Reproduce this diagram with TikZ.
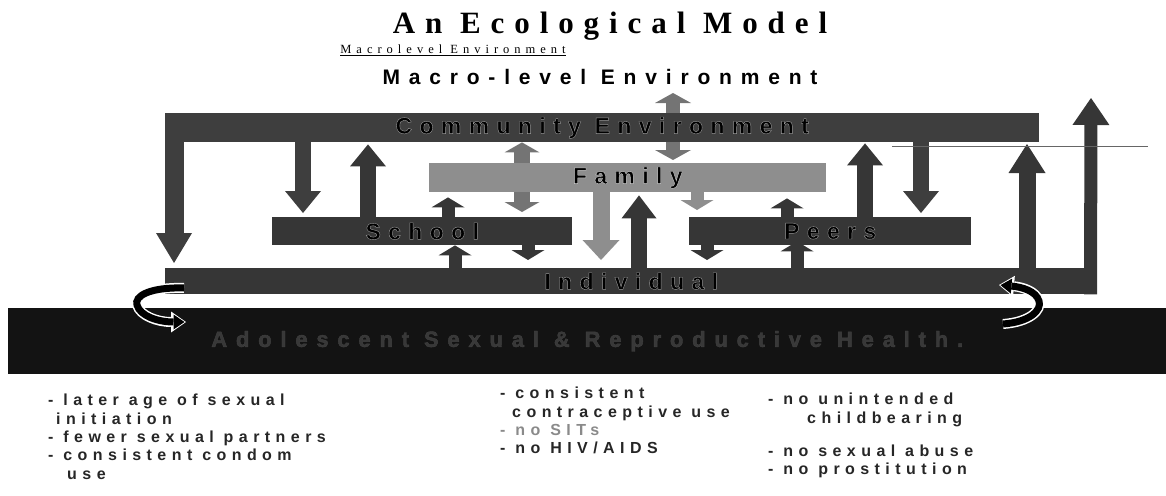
\documentclass[tikz,border=0pt]{standalone}
\usepackage{fontspec}
\setmainfont{Liberation Sans}
\newfontfamily\titlefont[LetterSpace=32]{Liberation Serif}
\newfontfamily\captionfont[LetterSpace=40]{Liberation Serif}
\newfontfamily\levelfont[LetterSpace=42]{Liberation Sans}
\newfontfamily\listfont[LetterSpace=34]{Liberation Sans}
\newfontfamily\barfont[LetterSpace=32]{Liberation Sans}
\usetikzlibrary{arrows.meta, backgrounds}

\definecolor{commgray}{HTML}{3E3E3E}
\definecolor{famgray}{HTML}{8E8E8E}
\definecolor{darkbar}{HTML}{363636}
\definecolor{healthblack}{HTML}{131313}
\definecolor{healthtext}{HTML}{383838}
\definecolor{listtext}{HTML}{262626}
\definecolor{sitgray}{HTML}{8A8A8A}
\definecolor{crossgray}{HTML}{747474}

% outlined letters as on the bars
\newcommand\embossed[2][0.6]{\special{pdf:literal direct 2 Tr 0.4 w #1 G}#2\special{pdf:literal direct 0 Tr 0 G}}

\begin{document}
\begin{tikzpicture}[x=1pt, y=-1pt,
    bar/.style={inner sep=0pt, anchor=north west, font=\barfont\bfseries\fontsize{23}{23}\selectfont},
    outcome/.style={inner sep=0pt, anchor=north west, align=left, text=listtext,
      font=\listfont\bfseries\fontsize{16}{18.3}\selectfont},
    blockarrow/.style n args={3}{line width=#1, -{Triangle[length=#2, width=#3, line width=0pt]}},
    twoway/.style n args={3}{line width=#1,
      {Triangle[length=#2, width=#3, line width=0pt]}-{Triangle[length=#2, width=#3, line width=0pt]}},
    bigarrow/.style={blockarrow={16pt}{22pt}{36pt}, draw=commgray},
    smallarrow/.style={blockarrow={13pt}{10pt}{33pt}, draw=darkbar},
    famarrow/.style={blockarrow={17pt}{20pt}{37pt}, draw=famgray},
    turnout/.style={white, line width=10pt, -{Triangle[length=15pt, width=21pt, line width=0pt]}},
    turnin/.style={black, line width=7pt, shorten >=1.5pt, -{Triangle[length=11pt, width=15pt, line width=0pt]}}]
  \useasboundingbox (0,0) rectangle (1166,495);

  % titles
  \node[anchor=base, font=\titlefont\bfseries\fontsize{31}{31}\selectfont] (title) at (610,34) {An Ecological Model};
  \node[anchor=base, font=\captionfont\fontsize{12.5}{12.5}\selectfont] (caption) at (453,54) {\underline{Macrolevel Environment}};
  \node[anchor=base, font=\levelfont\bfseries\fontsize{21}{21}\selectfont] (macro) at (600,84) {Macro-level Environment};

  % bars
  \node[bar, fill=commgray, minimum width=874pt, minimum height=29pt] (community) at (165,113) {\embossed{Community Environment}};
  \node[bar, fill=famgray, minimum width=397pt, minimum height=29pt] (family) at (429,163) {\embossed[0.8]{Family}};
  \node[bar, fill=darkbar, minimum width=300pt, minimum height=28pt] (school) at (272,217) {\embossed{School}};
  \node[bar, fill=darkbar, minimum width=282pt, minimum height=28pt] (peers) at (689,217) {\embossed{Peers}};
  \node[bar, fill=darkbar, minimum width=932pt, minimum height=26pt] (individual) at (165,268) {\embossed{Individual}};
  \node[bar, fill=healthblack, text=healthtext, minimum width=1158pt, minimum height=66pt,
    font=\barfont\bfseries\fontsize{22}{22}\selectfont\addfontfeature{LetterSpace=40}] (health) at (8,308)
    {\embossed[0.25]{Adolescent Sexual \& Reproductive Health.}};

  \coordinate (macroend) at (673,93);
  \coordinate (macrotip) at (1091,98);
  \coordinate (lineL) at (892,146);
  \coordinate (lineR) at (1148,146);

  % arrows passing behind a bar
  \begin{scope}[on background layer]
    \draw[twoway={14pt}{10pt}{36pt}, draw=crossgray, shorten >=3pt] (macroend) -- (673,0 |- family.north);
    \draw[twoway={16pt}{10pt}{35pt}, draw=crossgray, shorten >=5pt] (522,0 |- community.south) -- (522,0 |- school.north);
  \end{scope}

  % community
  \draw[blockarrow={19pt}{30pt}{36pt}, draw=commgray, shorten >=5pt] (174,0 |- community.north) -- (174,0 |- individual.north);
  \draw[bigarrow, shorten >=4pt] (303,0 |- community.south) -- (303,0 |- school.north);
  \draw[bigarrow, draw=darkbar, shorten >=2pt] (368,0 |- school.north) -- (368,0 |- community.south);
  \draw[bigarrow, shorten >=4pt] (921,0 |- community.south) -- (921,0 |- peers.north);
  \draw[bigarrow, draw=darkbar, shorten >=1pt] (865,0 |- peers.north) -- (865,0 |- community.south);

  % family
  \draw[famarrow, shorten >=8pt] (601,0 |- family.south) -- (601,0 |- individual.north);
  \draw[smallarrow, draw=famgray, shorten >=7pt] (697,0 |- family.south) -- (697,0 |- peers.north);
  \draw[blockarrow={16pt}{23pt}{35pt}, draw=darkbar, shorten >=3pt] (639,0 |- individual.north) -- (639,0 |- family.south);
  \draw[smallarrow, shorten >=5pt] (448,0 |- school.north) -- (448,0 |- family.south);
  \draw[smallarrow, shorten >=6pt] (787,0 |- peers.north) -- (787,0 |- family.south);

  % school, peers and individual
  \draw[smallarrow] (455,0 |- individual.north) -- (455,0 |- school.south);
  \draw[smallarrow, shorten >=8pt] (528,0 |- school.south) -- (528,0 |- individual.north);
  \draw[smallarrow, shorten >=8pt] (707,0 |- peers.south) -- (707,0 |- individual.north);
  \draw[smallarrow, shorten >=-4pt] (797,0 |- individual.north) -- (797,0 |- peers.south);
  \draw[blockarrow={17pt}{29pt}{37pt}, draw=darkbar, shorten >=-2pt] (1027,0 |- individual.north) -- (1027,0 |- lineL);
  \draw[blockarrow={13pt}{27pt}{37pt}, draw=darkbar] (1090.5,0 |- individual.south) -- (macrotip);

  \draw[gray!80!black, line width=0.9pt] (lineL) -- (lineR);

  % turning arrows between individual and health
  \coordinate (turnLstart) at (184,288);
  \coordinate (turnLend) at (186,322);
  \coordinate (turnRstart) at (1003,324);
  \coordinate (turnRend) at (999,285);
  \draw[turnout] (turnLstart) .. controls (150,287) and (134,296) .. (137,305) .. controls (140,316) and (158,322) .. (turnLend);
  \draw[turnin] (turnLstart) .. controls (150,287) and (134,296) .. (137,305) .. controls (140,316) and (158,322) .. (turnLend);
  \draw[turnout] (turnRstart) .. controls (1030,322) and (1042,310) .. (1039,301) .. controls (1036,291) and (1022,287) .. (turnRend);
  \draw[turnin] (turnRstart) .. controls (1030,322) and (1042,310) .. (1039,301) .. controls (1036,291) and (1022,287) .. (turnRend);

  % outcomes
  \node[outcome] (outcomes1) at (48,394) {- later age of sexual\\\hspace*{8pt}initiation\\- fewer sexual partners\\- consistent condom\\\hspace*{19pt}use};
  \node[outcome] (outcomes2) at (500,387) {- consistent\\\hspace*{12pt}contraceptive use\\\textcolor{sitgray}{- no SITs}\\- no HIV/AIDS};
  \node[outcome] (outcomes3) at (768,393) {- no unintended\\\hspace*{39pt}childbearing\\[15pt]- no sexual abuse\\- no prostitution};
\end{tikzpicture}
\end{document}
